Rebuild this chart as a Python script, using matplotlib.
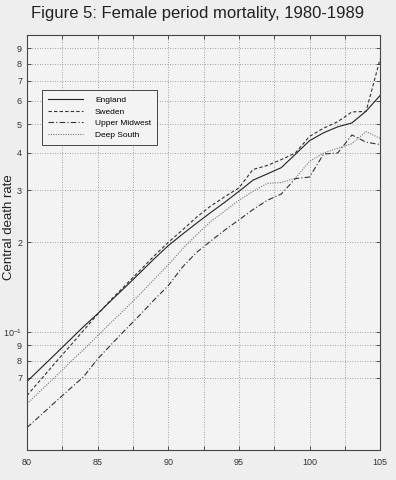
import numpy as np
import matplotlib
matplotlib.use("Agg")
import matplotlib.pyplot as plt
from matplotlib.ticker import FixedLocator, FixedFormatter, NullLocator

plt.rcParams['font.family'] = ['Liberation Sans', 'DejaVu Sans']
plt.rcParams['mathtext.fontset'] = 'custom'
plt.rcParams['mathtext.rm'] = 'Liberation Sans'

# Alter 80..105
alter = list(range(80, 106))

england = [0.068, 0.0756, 0.084, 0.0935, 0.104, 0.115, 0.128, 0.142, 0.158, 0.176,
           0.195, 0.213, 0.232, 0.252, 0.273, 0.297, 0.324, 0.340, 0.357, 0.396,
           0.440, 0.468, 0.490, 0.505, 0.553, 0.625]
sweden = [0.061, 0.0692, 0.0786, 0.089, 0.101, 0.1145, 0.129, 0.144, 0.161, 0.180,
          0.200, 0.220, 0.243, 0.265, 0.285, 0.305, 0.352, 0.363, 0.380, 0.400,
          0.455, 0.485, 0.510, 0.550, 0.552, 0.830]
upper_midwest = [0.0476, 0.0525, 0.058, 0.064, 0.0705, 0.081, 0.091, 0.102, 0.114, 0.128,
                 0.143, 0.165, 0.185, 0.202, 0.220, 0.238, 0.258, 0.277, 0.291, 0.328,
                 0.332, 0.397, 0.400, 0.460, 0.435, 0.427]
deep_south = [0.0572, 0.0635, 0.0705, 0.0785, 0.087, 0.097, 0.108, 0.120, 0.134, 0.150,
              0.168, 0.190, 0.212, 0.235, 0.255, 0.277, 0.297, 0.316, 0.318, 0.329,
              0.375, 0.400, 0.415, 0.430, 0.472, 0.448]

y_ticks = [0.07, 0.08, 0.09, 0.1, 0.2, 0.3, 0.4, 0.5, 0.6, 0.7, 0.8, 0.9]
y_labels = ['7', '8', '9', '$\\mathregular{10^{-1}}$', '2', '3', '4', '5', '6', '7', '8', '9']
x_ticks = [80, 82.5, 85, 87.5, 90, 92.5, 95, 97.5, 100, 102.5, 105]
x_labels = ['80', '', '85', '', '90', '', '95', '', '100', '', '105']

bg = '#eeeeee'
fig = plt.figure(figsize=(3.96, 4.8), dpi=100, facecolor=bg)
ax = fig.add_axes([0.068, 0.0625, 0.892, 0.865], facecolor='#f3f3f3')

ax.plot(alter, england, color='#222222', lw=0.8, ls='-', label='England')
ax.plot(alter, sweden, color='#333333', lw=0.8, ls=(0, (3, 2)), label='Sweden')
ax.plot(alter, upper_midwest, color='#333333', lw=0.8, ls=(0, (5, 2, 1, 2)), label='Upper Midwest')
ax.plot(alter, deep_south, color='#777777', lw=0.8, ls=(0, (1, 1.2)), label='Deep South')

ax.set_yscale('log')
ax.set_xlim(80, 105)
ax.set_ylim(0.04, 1.0)

ax.yaxis.set_major_locator(FixedLocator(y_ticks))
ax.yaxis.set_major_formatter(FixedFormatter(y_labels))
ax.yaxis.set_minor_locator(NullLocator())
ax.xaxis.set_major_locator(FixedLocator(x_ticks))
ax.xaxis.set_major_formatter(FixedFormatter(x_labels))

ax.tick_params(direction='in', length=3, width=0.6, labelsize=6.5, colors='#333333',
               right=True, top=True)
ax.tick_params(axis='x', pad=6)
ax.tick_params(axis='y', pad=3.5)
ax.grid(True, color='#888888', ls=(0, (1, 2)), lw=0.6)
for s in ax.spines.values():
    s.set_color('#444444')
    s.set_linewidth(0.8)

# y-Beschriftung direkt in Pixeln platzieren (wie im Original)
fig.text(9.5 / 396, 1 - 227 / 480, 'Central death rate', rotation=90,
         ha='center', va='center', fontsize=9.5, color='#222222')
fig.text(0.5, 0.972, 'Figure 5: Female period mortality, 1980-1989',
         ha='center', va='center', fontsize=12, color='#222222')

leg = ax.legend(loc='upper left', bbox_to_anchor=(0.044, 0.866), fontsize=6,
                handlelength=4.2, fancybox=False, framealpha=1, borderpad=0.7,
                labelspacing=0.45, handletextpad=1.4, borderaxespad=0)
leg.get_frame().set_edgecolor('#444444')
leg.get_frame().set_linewidth(0.7)
leg.get_frame().set_facecolor('#f3f3f3')

fig.savefig('out.png', dpi=100, facecolor=bg)
